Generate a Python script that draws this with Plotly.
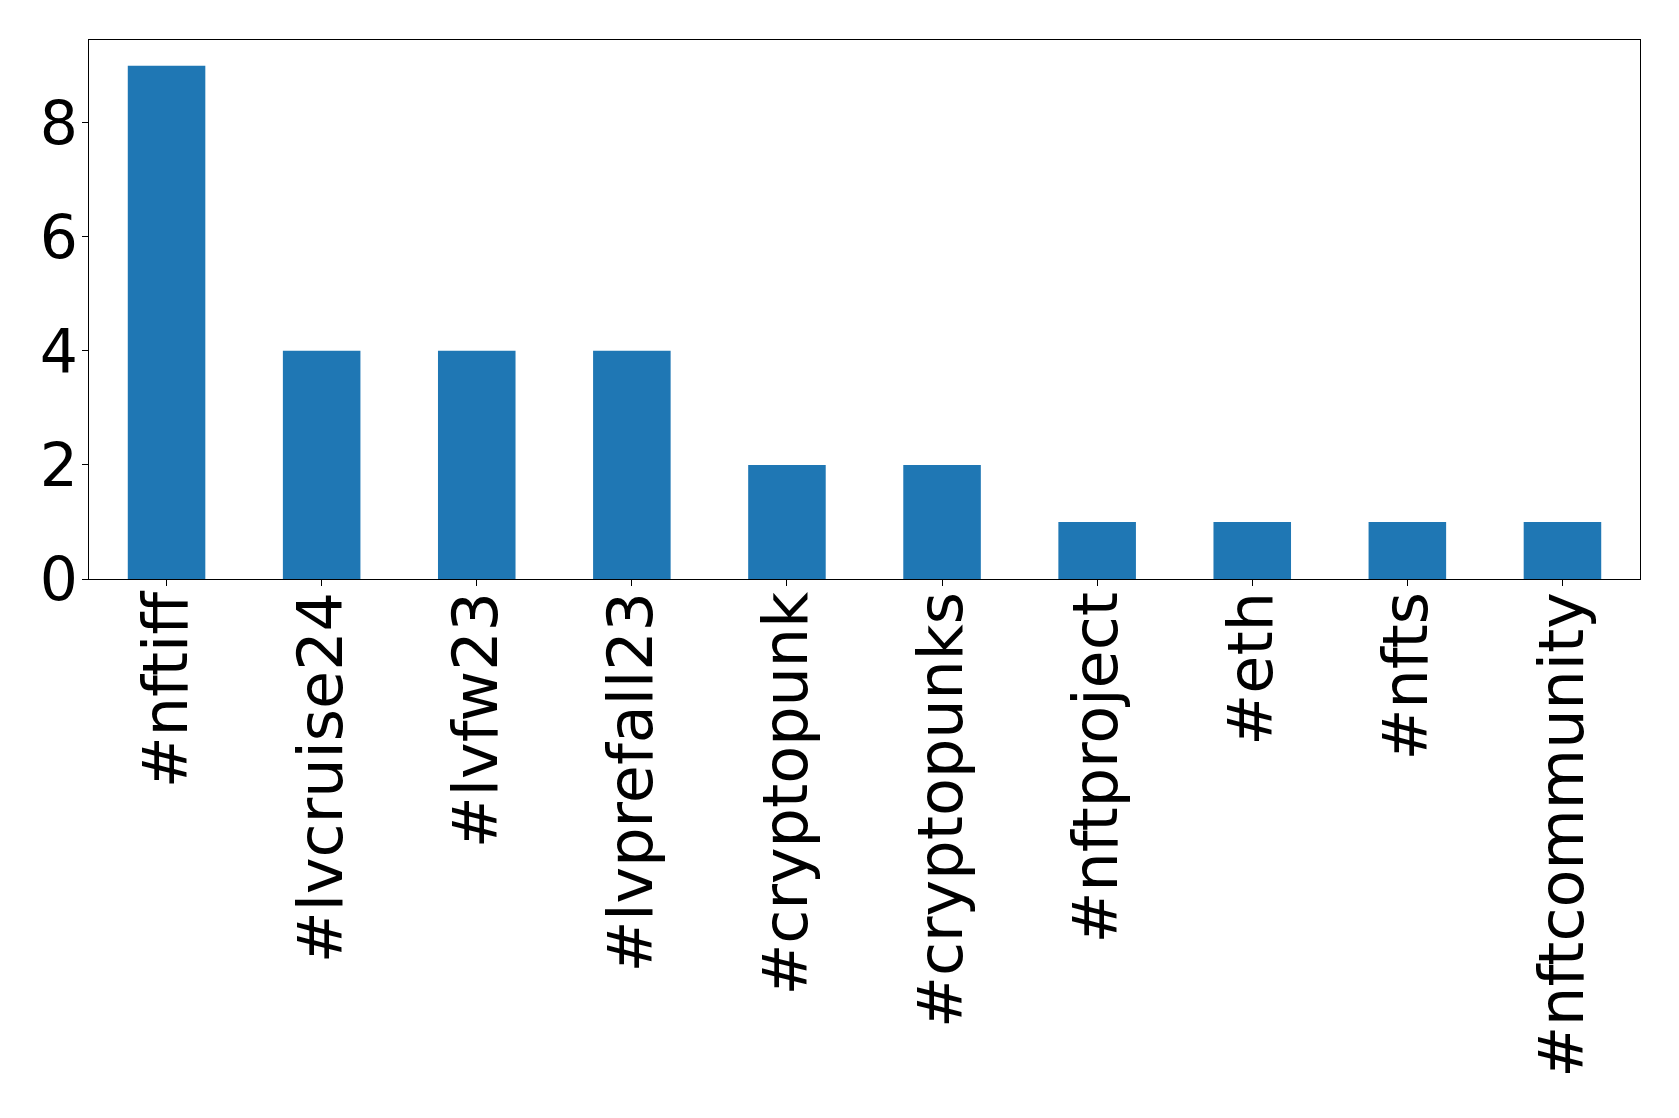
import plotly.graph_objects as go

categories = ["#nftiff", "#lvcruise24", "#lvfw23", "#lvprefall23", "#cryptopunk",
              "#cryptopunks", "#nftproject", "#eth", "#nfts", "#nftcommunity"]
counts = [9, 4, 4, 4, 2, 2, 1, 1, 1, 1]
y_ticks = [0, 2, 4, 6, 8]

fig = go.Figure(go.Bar(x=list(range(len(categories))), y=counts, width=0.5,
                       marker=dict(color="#1f77b4", line=dict(width=0))))

fig.update_layout(
    width=1663, height=1102,
    margin=dict(l=81, r=31, t=32, b=531),
    plot_bgcolor="white", paper_bgcolor="white",
    font=dict(family="DejaVu Sans", color="black", size=62),
    showlegend=False,
)
fig.update_xaxes(
    range=[-0.5, 9.5], tickmode="array", tickvals=list(range(len(categories))),
    ticktext=categories, tickangle=-90, ticks="outside", ticklen=6, tickwidth=1.3,
    tickcolor="black", showline=True, linecolor="black", linewidth=1.3, mirror=True,
    showgrid=False, zeroline=False, tickfont=dict(size=62), ticklabelstandoff=-19,
)
fig.update_yaxes(
    range=[0, 9.45], tickmode="array", tickvals=y_ticks, ticktext=[str(v) for v in y_ticks],
    ticks="outside", ticklen=6, tickwidth=1.3, tickcolor="black",
    showline=True, linecolor="black", linewidth=1.3, mirror=True,
    showgrid=False, zeroline=False, tickfont=dict(size=60), ticklabelstandoff=-8,
)

fig.write_html("out.html")
